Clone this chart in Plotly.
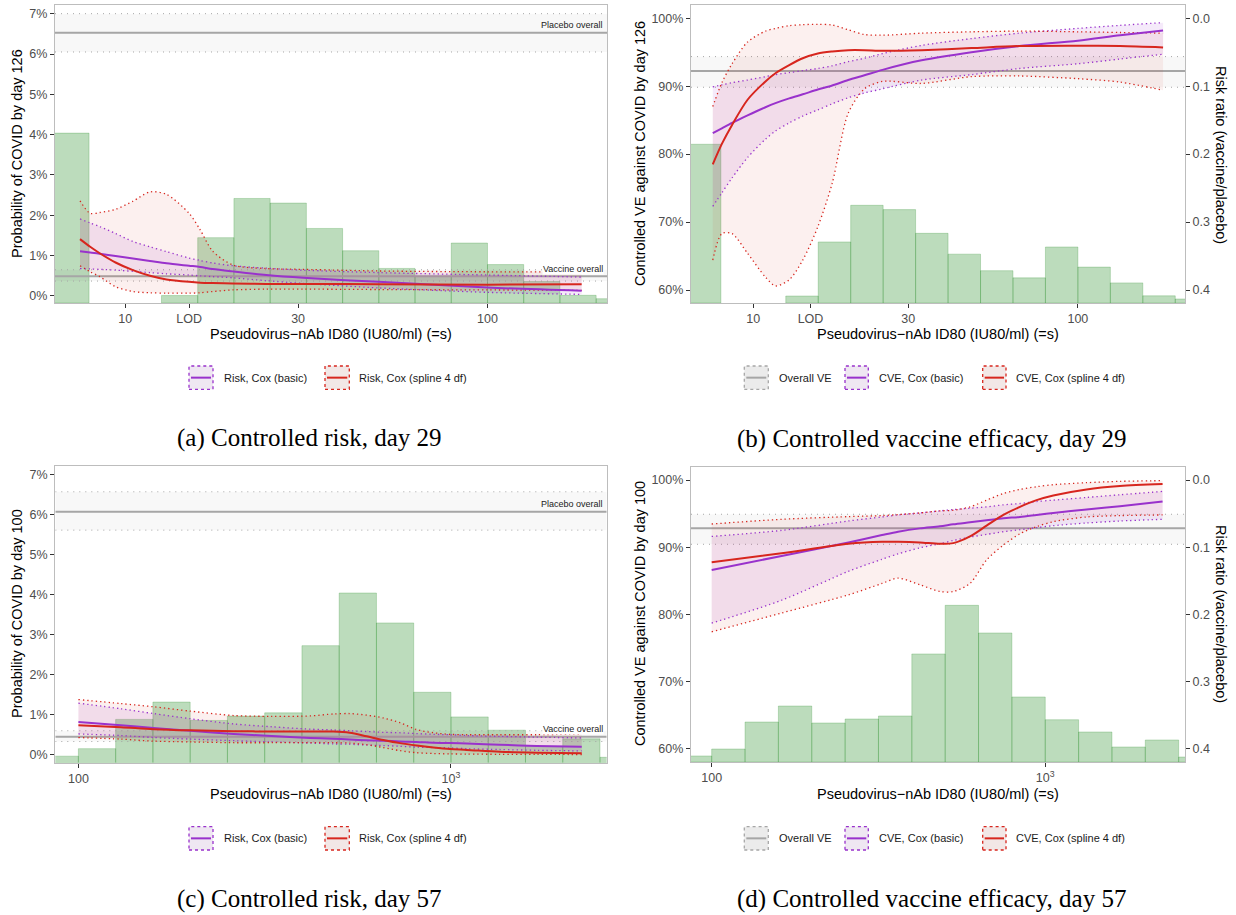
import plotly.graph_objects as go

W, H = 1236, 915

# ------------------------------------------------------------------ data
LOD = 15
BIN_WIDTH_LOG10 = 0.1

# histogram of vaccine-arm marker values (% of participants per 0.1 log10 bin)
d29_bin_left_log10 = [0.8, 0.9, 1.0, 1.1, 1.2, 1.3, 1.4, 1.5, 1.6, 1.7, 1.8, 1.9, 2.0, 2.1, 2.2, 2.3]
d29_hist_pct = [22.1, 0.0, 0.0, 0.97, 8.5, 13.6, 13.0, 9.7, 6.8, 4.5, 3.5, 7.8, 5.0, 2.8, 1.0, 0.56]
d57_bin_left_log10 = [1.9, 2.0, 2.1, 2.2, 2.3, 2.4, 2.5, 2.6, 2.7, 2.8, 2.9, 3.0, 3.1, 3.2, 3.3, 3.4]
d57_hist_pct = [0.74, 1.59, 4.9, 6.86, 4.78, 5.27, 5.64, 13.24, 19.2, 15.81, 7.97, 5.18, 3.68, 1.84, 2.70, 0.61]

# overall estimates (%): point, lower, upper
d29_placebo_overall = [6.53, 6.05, 7.00]
d29_vaccine_overall = [0.49, 0.37, 0.65]
d29_ve_overall = [92.24, 89.84, 94.35]
d57_placebo_overall = [6.08, 5.62, 6.58]
d57_vaccine_overall = [0.45, 0.33, 0.60]
d57_ve_overall = [92.8, 90.43, 94.9]

# (a) controlled risk, day 29
d29_risk_x = [7.5, 8.0, 8.5, 9.4, 10.5, 11.7, 13, 15, 16.1, 17.4, 19.8, 24.5, 31, 50, 100, 182]
d29_risk_basic = [1.11, 1.08, 1.05, 0.99, 0.93, 0.87, 0.81, 0.75, 0.72, 0.67, 0.61, 0.52, 0.45, 0.35, 0.21, 0.13]
d29_risk_basic_hi = [1.91, 1.81, 1.72, 1.55, 1.35, 1.22, 1.10, 0.94, 0.88, 0.82, 0.75, 0.69, 0.64, 0.58, 0.52, 0.47]
d29_risk_basic_lo = [0.68, 0.67, 0.66, 0.64, 0.61, 0.58, 0.55, 0.52, 0.50, 0.48, 0.45, 0.38, 0.31, 0.20, 0.09, 0.04]
d29_risk_spline = [1.41, 1.22, 1.06, 0.83, 0.64, 0.50, 0.41, 0.35, 0.33, 0.32, 0.31, 0.30, 0.30, 0.29, 0.28, 0.29]
d29_risk_spline_hi = [2.36, 2.05, 2.07, 2.15, 2.35, 2.58, 2.52, 2.05, 1.64, 1.12, 0.77, 0.68, 0.66, 0.62, 0.60, 0.60]
d29_risk_spline_lo = [0.75, 0.60, 0.48, 0.23, 0.11, 0.08, 0.07, 0.07, 0.08, 0.11, 0.15, 0.17, 0.17, 0.16, 0.15, 0.14]

# (b) controlled VE, day 29
d29_ve_x = [7.5, 8.0, 8.6, 9.6, 10.9, 11.7, 12.9, 14.2, 15.8, 17.5, 19.6, 22, 25, 33, 47, 66, 100, 135, 183]
d29_ve_basic = [83.1, 83.8, 84.6, 85.7, 86.9, 87.5, 88.2, 88.8, 89.5, 90.1, 90.9, 91.6, 92.4, 93.8, 95.0, 95.9, 96.7, 97.5, 98.2]
d29_ve_basic_hi = [89.9, 90.2, 90.5, 90.9, 91.4, 91.7, 92.0, 92.3, 92.6, 93.0, 93.6, 94.1, 94.8, 96.0, 97.0, 97.8, 98.5, 98.95, 99.35]
d29_ve_basic_lo = [72.3, 74.3, 76.5, 79.5, 82.2, 83.4, 84.6, 85.6, 86.5, 87.4, 88.3, 89.0, 89.6, 90.9, 91.7, 92.6, 93.3, 94.0, 94.7]
d29_ve_spline = [78.5, 81.5, 84.3, 88.0, 90.7, 91.9, 93.1, 94.1, 94.8, 95.1, 95.3, 95.3, 95.2, 95.3, 95.6, 95.9, 95.95, 95.9, 95.7]
d29_ve_spline_hi = [87.0, 90.5, 93.3, 96.5, 98.1, 98.5, 98.9, 99.05, 99.1, 99.0, 98.3, 97.6, 97.5, 97.8, 98.0, 98.1, 98.0, 97.9, 97.8]
d29_ve_spline_lo = [64.4, 68.3, 68.3, 65.4, 61.9, 60.6, 61.5, 64.4, 69.3, 75.7, 86.0, 89.6, 90.7, 90.4, 91.4, 91.5, 91.1, 90.6, 89.4]

# (c) controlled risk, day 57
d57_risk_x = [100, 130, 159, 200, 261, 330, 419, 483, 535, 594, 658, 730, 809, 897, 994, 1103, 1353, 1700, 2244]
d57_risk_basic = [0.82, 0.74, 0.67, 0.60, 0.52, 0.47, 0.42, 0.40, 0.38, 0.36, 0.35, 0.33, 0.32, 0.30, 0.29, 0.28, 0.25, 0.22, 0.20]
d57_risk_basic_hi = [1.29, 1.15, 1.03, 0.90, 0.77, 0.70, 0.64, 0.62, 0.60, 0.58, 0.56, 0.55, 0.53, 0.51, 0.50, 0.48, 0.46, 0.44, 0.42]
d57_risk_basic_lo = [0.52, 0.48, 0.43, 0.39, 0.35, 0.32, 0.29, 0.27, 0.26, 0.24, 0.23, 0.21, 0.19, 0.18, 0.17, 0.15, 0.13, 0.11, 0.095]
d57_risk_spline = [0.74, 0.69, 0.64, 0.61, 0.59, 0.58, 0.58, 0.58, 0.55, 0.46, 0.37, 0.29, 0.23, 0.18, 0.14, 0.12, 0.075, 0.05, 0.035]
d57_risk_spline_hi = [1.38, 1.28, 1.20, 1.09, 0.98, 0.96, 0.97, 1.02, 1.03, 0.99, 0.92, 0.80, 0.63, 0.55, 0.51, 0.50, 0.50, 0.50, 0.52]
d57_risk_spline_lo = [0.43, 0.39, 0.34, 0.32, 0.30, 0.30, 0.30, 0.30, 0.29, 0.25, 0.18, 0.10, 0.05, 0.03, 0.02, 0.015, 0.01, 0.008, 0.005]

# (d) controlled VE, day 57
d57_ve_x = [100, 162, 257, 324, 362, 421, 483, 530, 595, 667, 749, 840, 942, 1057, 1330, 1675, 2248]
d57_ve_basic = [86.6, 88.7, 90.7, 91.8, 92.3, 92.8, 93.1, 93.4, 93.7, 94.0, 94.3, 94.5, 94.8, 95.1, 95.6, 96.1, 96.8]
d57_ve_basic_hi = [91.6, 92.5, 93.9, 94.5, 94.8, 95.1, 95.4, 95.6, 95.8, 96.0, 96.3, 96.5, 96.8, 97.0, 97.4, 97.8, 98.3]
d57_ve_basic_lo = [78.7, 82.1, 86.4, 88.2, 89.0, 89.9, 90.5, 91.0, 91.5, 91.9, 92.3, 92.6, 92.9, 93.2, 93.6, 93.9, 94.15]
d57_ve_spline = [87.75, 89.1, 90.5, 90.8, 90.8, 90.7, 90.5, 90.6, 91.6, 93.2, 94.8, 96.0, 97.0, 97.7, 98.6, 99.1, 99.4]
d57_ve_spline_hi = [93.45, 94.15, 94.55, 94.7, 94.85, 95.1, 95.4, 95.5, 96.0, 97.0, 98.0, 98.6, 99.0, 99.3, 99.6, 99.8, 99.9]
d57_ve_spline_lo = [77.4, 80.2, 82.9, 84.6, 85.4, 84.4, 83.4, 83.4, 84.6, 88.1, 90.3, 92.0, 93.05, 93.8, 94.5, 94.7, 94.8]

# tick labels
d29_xtick_vals = [10, LOD, 30, 100]
d29_xtick_text = ["10", "LOD", "30", "100"]
d57_xtick_vals = [100, 1000]
d57_xtick_text = ["100", "10<sup>3</sup>"]
risk_ytick_vals = [0, 1, 2, 3, 4, 5, 6, 7]
ve_ytick_vals = [60, 70, 80, 90, 100]
rr_ytick_vals = [0.0, 0.1, 0.2, 0.3, 0.4]

# ------------------------------------------------------------------ style
PURPLE = "#9932CC"
RED = "#D7261E"
GREY = "#A6A6A6"
PURPLE_FILL = "rgba(153,50,204,0.10)"
RED_FILL = "rgba(215,38,30,0.07)"
HIST_FILL = "rgba(34,139,34,0.30)"
HIST_LINE = "rgba(34,139,34,0.30)"
BAND_FILL = "rgba(0,0,0,0.028)"
SANS = "Liberation Sans, Arial, sans-serif"
SERIF = "Liberation Serif, Times New Roman, serif"
CI_DASH = "1.3px,3px"
GREY_DASH = "1px,5px"


def pxx(x):
    return x / W


def pxy(y):
    return 1 - y / H


panels = {
    "a": dict(xa="x", ya="y", box=(55, 5, 607, 303), xr=(0.806, 2.330), yr=(-0.174, 7.215), k=0.1906),
    "b": dict(xa="x2", ya="y2", box=(691, 5.3, 1185, 303), xr=(0.808, 2.330), yr=(58.09, 101.9), k=1.0571, rr="y5"),
    "c": dict(xa="x3", ya="y3", box=(55.3, 466, 606.7, 762.7), xr=(1.938, 3.418), yr=(-0.200, 7.225), k=0.2212),
    "d": dict(xa="x4", ya="y4", box=(691, 466.7, 1185, 762), xr=(1.938, 3.419), yr=(58.02, 101.98), k=1.2148, rr="y6"),
}

fig = go.Figure()


def add(tr):
    tr.update(hoverinfo="skip", showlegend=False)
    fig.add_trace(tr)


def add_hist(p, bin_left, pct):
    base = p["yr"][0]
    xs, ys = [], []
    for b, v in zip(bin_left, pct):
        if v <= 0:
            continue
        l, r = 10 ** b, 10 ** (b + BIN_WIDTH_LOG10)
        top = base + v * p["k"]
        xs += [l, l, r, r, l, None]
        ys += [base, top, top, base, base, None]
    add(go.Scatter(x=xs, y=ys, xaxis=p["xa"], yaxis=p["ya"], mode="lines", fill="toself",
                   fillcolor=HIST_FILL, line=dict(color=HIST_LINE, width=0.8)))


def add_overall(p, est):
    x0, x1 = 10 ** p["xr"][0], 10 ** p["xr"][1]
    pt, lo, hi = est
    add(go.Scatter(x=[x0, x1, x1, x0, x0], y=[lo, lo, hi, hi, lo], xaxis=p["xa"], yaxis=p["ya"],
                   mode="lines", fill="toself", fillcolor=BAND_FILL, line=dict(width=0)))
    for v in (lo, hi):
        add(go.Scatter(x=[x0, x1], y=[v, v], xaxis=p["xa"], yaxis=p["ya"], mode="lines",
                       line=dict(color=GREY, width=1, dash=GREY_DASH)))
    add(go.Scatter(x=[x0, x1], y=[pt, pt], xaxis=p["xa"], yaxis=p["ya"], mode="lines",
                   line=dict(color=GREY, width=2)))


def add_ci_fill(p, x, lo, hi, fill):
    add(go.Scatter(x=x, y=lo, xaxis=p["xa"], yaxis=p["ya"], mode="lines",
                   line=dict(width=0, shape="spline", smoothing=0.8)))
    add(go.Scatter(x=x, y=hi, xaxis=p["xa"], yaxis=p["ya"], mode="lines", fill="tonexty", fillcolor=fill,
                   line=dict(width=0, shape="spline", smoothing=0.8)))


def add_line(p, x, y, color, dash=None, width=2.0):
    ln = dict(color=color, width=width, shape="spline", smoothing=0.8)
    if dash:
        ln["dash"] = dash
    add(go.Scatter(x=x, y=y, xaxis=p["xa"], yaxis=p["ya"], mode="lines", line=ln))


def add_curves(p, x, basic, blo, bhi, spl, slo, shi):
    add_ci_fill(p, x, blo, bhi, PURPLE_FILL)
    add_ci_fill(p, x, slo, shi, RED_FILL)
    add_line(p, x, blo, PURPLE, CI_DASH, 1.3)
    add_line(p, x, bhi, PURPLE, CI_DASH, 1.3)
    add_line(p, x, slo, RED, CI_DASH, 1.3)
    add_line(p, x, shi, RED, CI_DASH, 1.3)
    add_line(p, x, basic, PURPLE)
    add_line(p, x, spl, RED)


# panel a
pa = panels["a"]
add_hist(pa, d29_bin_left_log10, d29_hist_pct)
add_overall(pa, d29_placebo_overall)
add_overall(pa, d29_vaccine_overall)
add_curves(pa, d29_risk_x, d29_risk_basic, d29_risk_basic_lo, d29_risk_basic_hi,
           d29_risk_spline, d29_risk_spline_lo, d29_risk_spline_hi)
# panel b
pb = panels["b"]
add_hist(pb, d29_bin_left_log10, d29_hist_pct)
add_overall(pb, d29_ve_overall)
add_curves(pb, d29_ve_x, d29_ve_basic, d29_ve_basic_lo, d29_ve_basic_hi,
           d29_ve_spline, d29_ve_spline_lo, d29_ve_spline_hi)
# panel c
pc = panels["c"]
add_hist(pc, d57_bin_left_log10, d57_hist_pct)
add_overall(pc, d57_placebo_overall)
add_overall(pc, d57_vaccine_overall)
add_curves(pc, d57_risk_x, d57_risk_basic, d57_risk_basic_lo, d57_risk_basic_hi,
           d57_risk_spline, d57_risk_spline_lo, d57_risk_spline_hi)
# panel d
pd_ = panels["d"]
add_hist(pd_, d57_bin_left_log10, d57_hist_pct)
add_overall(pd_, d57_ve_overall)
add_curves(pd_, d57_ve_x, d57_ve_basic, d57_ve_basic_lo, d57_ve_basic_hi,
           d57_ve_spline, d57_ve_spline_lo, d57_ve_spline_hi)

# invisible traces to activate the risk-ratio axes
for p in (pb, pd_):
    add(go.Scatter(x=[10 ** ((p["xr"][0] + p["xr"][1]) / 2)], y=[0.2], xaxis=p["xa"], yaxis=p["rr"],
                   mode="markers", marker=dict(opacity=0)))

# ------------------------------------------------------------------ axes
AX = dict(showgrid=False, zeroline=False, showline=True, linecolor="#BDBDBD", linewidth=1.2, mirror=True,
          ticks="outside", ticklen=4, tickwidth=1, tickcolor="#333333",
          tickfont=dict(family=SANS, size=12.5, color="#4D4D4D"))

layout_axes = {}
for idx, key in enumerate(["a", "b", "c", "d"], start=1):
    p = panels[key]
    sfx = "" if idx == 1 else str(idx)
    x0, y0, x1, y1 = p["box"]
    day29 = key in ("a", "b")
    risk = key in ("a", "c")
    layout_axes["xaxis" + sfx] = dict(
        AX, type="log", range=list(p["xr"]), domain=[pxx(x0), pxx(x1)], anchor="y" + sfx,
        tickmode="array",
        tickvals=d29_xtick_vals if day29 else d57_xtick_vals,
        ticktext=d29_xtick_text if day29 else d57_xtick_text)
    yt = risk_ytick_vals if risk else ve_ytick_vals
    layout_axes["yaxis" + sfx] = dict(
        AX, range=list(p["yr"]), domain=[pxy(y1), pxy(y0)], anchor="x" + sfx,
        tickmode="array", tickvals=yt, ticktext=[f"{v}%" for v in yt])
    if "rr" in p:
        n = p["rr"][1:]
        layout_axes["yaxis" + n] = dict(
            AX, mirror=False, overlaying="y" + sfx, anchor="x" + sfx, side="right",
            range=[1 - p["yr"][0] / 100, 1 - p["yr"][1] / 100],
            tickmode="array", tickvals=rr_ytick_vals, ticktext=[f"{v:.1f}" for v in rr_ytick_vals])

# ------------------------------------------------------------------ annotations & legend shapes
ann = []
shapes = []


def text(x, y, s, size, angle=0, family=SANS, color="#000000", xanchor="center", yanchor="middle"):
    ann.append(dict(x=pxx(x), y=pxy(y), xref="paper", yref="paper", text=s, showarrow=False,
                    textangle=angle, xanchor=xanchor, yanchor=yanchor,
                    font=dict(family=family, size=size, color=color)))


XTITLE = "Pseudovirus\u2212nAb ID80 (IU80/ml) (=s)"
# axis titles
text(17, 154, "Probability of COVID by day 126", 14.5, -90)
text(17, 614, "Probability of COVID by day 100", 14.5, -90)
text(640, 154, "Controlled VE against COVID by day 126", 14.5, -90)
text(640, 614, "Controlled VE against COVID by day 100", 14.5, -90)
text(1221, 155, "Risk ratio (vaccine/placebo)", 14.5, 90)
text(1221, 614, "Risk ratio (vaccine/placebo)", 14.5, 90)
text(331, 334, XTITLE, 14.5)
text(938, 334, XTITLE, 14.5)
text(331, 794, XTITLE, 14.5)
text(938, 794, XTITLE, 14.5)

# captions
text(309.5, 438, "(a) Controlled risk, day 29", 25, family=SERIF)
text(931, 439, "(b) Controlled vaccine efficacy, day 29", 25, family=SERIF)
text(309.5, 899, "(c) Controlled risk, day 57", 25, family=SERIF)
text(931, 899, "(d) Controlled vaccine efficacy, day 57", 25, family=SERIF)

# overall labels
for p, plac, vacc in ((pa, d29_placebo_overall, d29_vaccine_overall), (pc, d57_placebo_overall, d57_vaccine_overall)):
    for lab, v, bg in (("Placebo overall", plac[0], "rgba(0,0,0,0)"), ("Vaccine overall", vacc[0], "#FFFFFF")):
        ann.append(dict(x=1, xref=p["xa"] + " domain", y=v, yref=p["ya"], text=lab, showarrow=False,
                        xanchor="right", yanchor="bottom", xshift=-3, yshift=1.5, bgcolor=bg, borderpad=0,
                        font=dict(family=SANS, size=9, color="#222222")))


def key(x0, x1, y0, y1, color, fill):
    shapes.append(dict(type="rect", xref="paper", yref="paper", x0=pxx(x0), x1=pxx(x1), y0=pxy(y1), y1=pxy(y0),
                       fillcolor=fill, line=dict(color=color, width=1.3, dash="dot")))
    yc = (y0 + y1) / 2
    shapes.append(dict(type="line", xref="paper", yref="paper", x0=pxx(x0 + 2), x1=pxx(x1 - 2),
                       y0=pxy(yc), y1=pxy(yc), line=dict(color=color, width=2)))


for (ky0, ky1) in ((366, 389.3), (826.7, 850)):
    yc = (ky0 + ky1) / 2
    key(189, 213, ky0, ky1, PURPLE, "#EFE7F2")
    text(221.5, yc, "Risk, Cox (basic)", 11, xanchor="left", color="#1A1A1A")
    key(325, 349.3, ky0, ky1, RED, "#F2E7E6")
    text(357, yc, "Risk, Cox (spline 4 df)", 11, xanchor="left", color="#1A1A1A")
    key(744.3, 768.3, ky0, ky1, GREY, "#EBEBEB")
    text(776.5, yc, "Overall VE", 11, xanchor="left", color="#1A1A1A")
    key(845, 868.3, ky0, ky1, PURPLE, "#EFE7F2")
    text(876.5, yc, "CVE, Cox (basic)", 11, xanchor="left", color="#1A1A1A")
    key(982.7, 1006, ky0, ky1, RED, "#F2E7E6")
    text(1014, yc, "CVE, Cox (spline 4 df)", 11, xanchor="left", color="#1A1A1A")

fig.update_layout(
    width=W, height=H, margin=dict(l=0, r=0, t=0, b=0),
    paper_bgcolor="white", plot_bgcolor="white",
    font=dict(family=SANS), showlegend=False,
    annotations=ann, shapes=shapes, **layout_axes)

fig.write_html("out.html")
